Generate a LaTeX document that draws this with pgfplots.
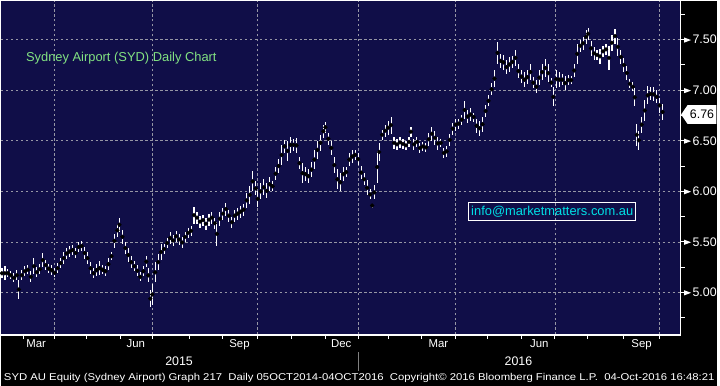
\documentclass[border=0pt]{standalone}
\usepackage{fontspec}
\setmainfont{Liberation Sans}
\usepackage{graphicx}
\usepackage{pgfplots}
\pgfplotsset{compat=1.18}
\usepackage{pgfplotstable}
\definecolor{navy}{RGB}{16,14,72}
\definecolor{titlegreen}{RGB}{130,226,130}
\definecolor{infocyan}{RGB}{0,224,230}
\definecolor{gridgray}{RGB}{150,150,165}
\pgfplotstableread{
x l h
1 5.14 5.24
4 5.12 5.26
7 5.15 5.23
10 5.13 5.21
13 5.10 5.19
16 5.12 5.22
18 4.94 5.12
21 5.12 5.22
24 5.16 5.26
27 5.18 5.27
30 5.10 5.21
33 5.18 5.34
36 5.15 5.25
39 5.18 5.28
42 5.25 5.39
45 5.22 5.32
48 5.19 5.28
51 5.17 5.27
54 5.15 5.24
57 5.19 5.29
60 5.24 5.34
63 5.28 5.40
66 5.33 5.44
69 5.35 5.46
72 5.37 5.47
75 5.34 5.44
78 5.40 5.50
81 5.41 5.51
84 5.33 5.45
87 5.28 5.40
90 5.18 5.30
93 5.14 5.24
96 5.16 5.28
99 5.17 5.31
102 5.18 5.27
105 5.16 5.26
108 5.22 5.34
111 5.32 5.40
114 5.44 5.58
117 5.55 5.68
119 5.60 5.74
122 5.48 5.62
125 5.38 5.50
128 5.30 5.44
131 5.24 5.36
134 5.21 5.31
137 5.16 5.27
140 5.11 5.20
143 5.16 5.26
146 5.25 5.36
148 5.10 5.24
150 4.86 5.02
152 4.88 5.08
155 5.10 5.30
158 5.22 5.38
161 5.32 5.48
164 5.38 5.48
167 5.44 5.54
170 5.48 5.60
173 5.46 5.57
176 5.50 5.61
179 5.47 5.58
182 5.44 5.55
185 5.50 5.60
188 5.54 5.64
191 5.56 5.66
194 5.68 5.85
197 5.68 5.80
200 5.64 5.76
203 5.66 5.77
206 5.62 5.74
209 5.66 5.78
212 5.68 5.80
215 5.63 5.74
217 5.46 5.70
220 5.66 5.80
223 5.72 5.84
226 5.76 5.89
229 5.70 5.82
232 5.64 5.75
235 5.70 5.82
238 5.72 5.84
241 5.74 5.86
244 5.76 5.88
247 5.84 5.98
250 5.88 6.05
253 6.00 6.20
256 5.96 6.10
258 5.85 6.00
261 5.92 6.08
264 5.96 6.12
267 5.93 6.08
270 6.00 6.14
273 6.00 6.10
276 6.11 6.24
279 6.18 6.32
282 6.26 6.46
285 6.38 6.51
288 6.30 6.50
291 6.38 6.54
294 6.40 6.52
297 6.38 6.53
300 6.22 6.34
303 6.08 6.28
306 6.10 6.24
309 6.08 6.22
312 6.14 6.29
315 6.22 6.41
318 6.32 6.50
321 6.40 6.56
324 6.53 6.66
326 6.58 6.69
329 6.46 6.58
332 6.36 6.50
335 6.18 6.34
338 6.02 6.22
341 6.00 6.18
344 6.10 6.24
347 6.14 6.24
350 6.25 6.38
353 6.28 6.41
356 6.31 6.41
359 6.26 6.38
362 6.12 6.25
365 6.06 6.18
368 5.96 6.11
371 5.92 6.02
373 5.84 5.88
375 5.92 6.06
378 6.08 6.40
380 6.30 6.48
383 6.51 6.61
386 6.54 6.66
389 6.56 6.70
392 6.57 6.74
395 6.42 6.54
398 6.41 6.52
401 6.43 6.54
404 6.42 6.52
407 6.41 6.50
410 6.44 6.54
412 6.54 6.64
415 6.41 6.52
418 6.44 6.54
421 6.38 6.48
424 6.40 6.49
427 6.39 6.48
430 6.45 6.58
433 6.50 6.64
436 6.46 6.60
439 6.41 6.54
442 6.44 6.52
445 6.33 6.43
448 6.34 6.45
451 6.45 6.57
454 6.56 6.68
457 6.60 6.72
460 6.62 6.72
463 6.66 6.76
466 6.72 6.89
469 6.68 6.80
472 6.70 6.82
475 6.69 6.78
478 6.58 6.72
481 6.55 6.70
484 6.59 6.74
487 6.74 6.85
490 6.84 6.95
493 6.95 7.07
496 7.03 7.20
499 7.26 7.48
502 7.22 7.36
505 7.20 7.35
508 7.16 7.30
511 7.18 7.33
514 7.22 7.34
517 7.24 7.40
520 7.12 7.26
523 7.07 7.20
526 7.03 7.18
529 7.06 7.20
532 7.10 7.26
535 7.02 7.13
538 6.97 7.10
541 7.05 7.20
544 7.10 7.26
547 7.13 7.31
550 7.08 7.26
553 7.03 7.12
555 6.84 7.03
558 7.02 7.20
561 7.03 7.18
564 7.05 7.16
567 7.00 7.14
570 7.05 7.15
573 7.06 7.14
576 7.13 7.26
579 7.26 7.46
582 7.38 7.50
585 7.40 7.53
588 7.46 7.60
590 7.50 7.62
593 7.34 7.49
596 7.30 7.43
599 7.30 7.40
602 7.26 7.41
605 7.33 7.44
608 7.35 7.46
611 7.20 7.44
614 7.39 7.55
617 7.46 7.61
620 7.34 7.52
623 7.26 7.40
626 7.18 7.32
629 7.10 7.24
632 7.02 7.11
635 6.99 7.08
637 6.84 7.02
639 6.45 6.67
641 6.41 6.60
644 6.58 6.74
647 6.70 6.90
650 6.86 7.04
653 6.90 7.03
656 6.89 7.03
659 6.87 7.00
662 6.78 6.92
665 6.71 6.86
}\ohlc
\begin{document}
\begin{tikzpicture}
\fill[black] (0bp,0bp) rectangle (720bp,387bp);
\begin{axis}[
  at={(0bp,51bp)}, anchor=south west,
  width=683bp, height=336bp, scale only axis,
  xmin=0, xmax=683, ymin=4.58, ymax=7.887,
  axis background/.style={fill=navy},
  axis x line*=bottom, axis y line*=right,
  axis line style={white, line width=1.2bp},
  tick align=outside,
  major tick length=4bp, minor tick length=4bp,
  tick style={white, line width=1bp},
  xtick={53.7,152.5,257.6,359.6,456.5,556.6,661.3},
  xticklabels={},
  minor xtick={23,85.9,120.3,189.2,222.7,292,326,389.9,422.5,488.6,522.6,589.7,625.5},
  extra x ticks={35.4,135.5,239.7,342,439.5,541,643.8},
  extra x tick labels={Mar,Jun,Sep,Dec,Mar,Jun,Sep},
  extra x tick style={major tick length=0pt, grid=none,
    tick label style={text=white, font=\fontsize{11.5}{12}\selectfont, yshift=-1bp}},
  xmajorgrids, ymajorgrids,
  major grid style={gridgray, line width=0.7bp, dash pattern=on 2.5bp off 2.5bp},
  ytick={5,5.5,6,6.5,7,7.5},
  minor ytick={4.75,5.25,5.75,6.25,6.75,7.25,7.75},
  yticklabel style={anchor=west, xshift=-4bp, text=white, font=\fontsize{12.5}{13}\selectfont},
  yticklabel={\tikz[baseline=-0.6ex]\fill[white] (0bp,-2.6bp)--(7bp,0bp)--(0bp,2.6bp)--cycle;\hspace{1.5bp}\pgfmathprintnumber{\tick}},
  clip=true,
  /pgf/number format/.cd, fixed, fixed zerofill, precision=2, assume math mode=true
]
\addplot[only marks, mark=none,
  error bars/.cd, y dir=both, y explicit, error mark=none,
  error bar style={white, line width=1.1bp}]
  table[x=x, y expr={(\thisrow{l}+\thisrow{h})/2}, y error expr={(\thisrow{h}-\thisrow{l})/2}] {\ohlc};
\end{axis}
\node[anchor=west, text=titlegreen, font=\fontsize{13}{15}\selectfont, inner sep=0pt] at (25bp,329bp) {Sydney Airport (SYD) Daily Chart};
\draw[white, line width=1bp] (470.3bp,165.7bp) rectangle (637.7bp,184.3bp);
\node[text=infocyan, font=\fontsize{13}{15}\selectfont, inner sep=0pt] at (554bp,175bp) {info@marketmatters.com.au};
\fill[white] (683.5bp,272.5bp) -- (690bp,282bp) -- (719bp,282bp) -- (719bp,263bp) -- (690bp,263bp) -- cycle;
\node[text=black, font=\fontsize{12.5}{13}\selectfont] at (704.5bp,272.5bp) {6.76};
\node[text=white, font=\fontsize{12.5}{13}\selectfont] at (179bp,25bp) {2015};
\node[text=white, font=\fontsize{12.5}{13}\selectfont] at (520bp,25bp) {2016};
\draw[gray, line width=0.8bp] (359.6bp,15bp) -- (359.6bp,34bp);
\node[text=white, inner sep=0pt] at (360bp,8bp) {\resizebox{714bp}{\height}{\fontsize{10}{12}\selectfont SYD AU Equity (Sydney Airport) Graph 217\ \ Daily 05OCT2014-04OCT2016\ \ Copyright© 2016 Bloomberg Finance L.P.\ \ 04-Oct-2016 16:48:21}};
\end{tikzpicture}
\end{document}
